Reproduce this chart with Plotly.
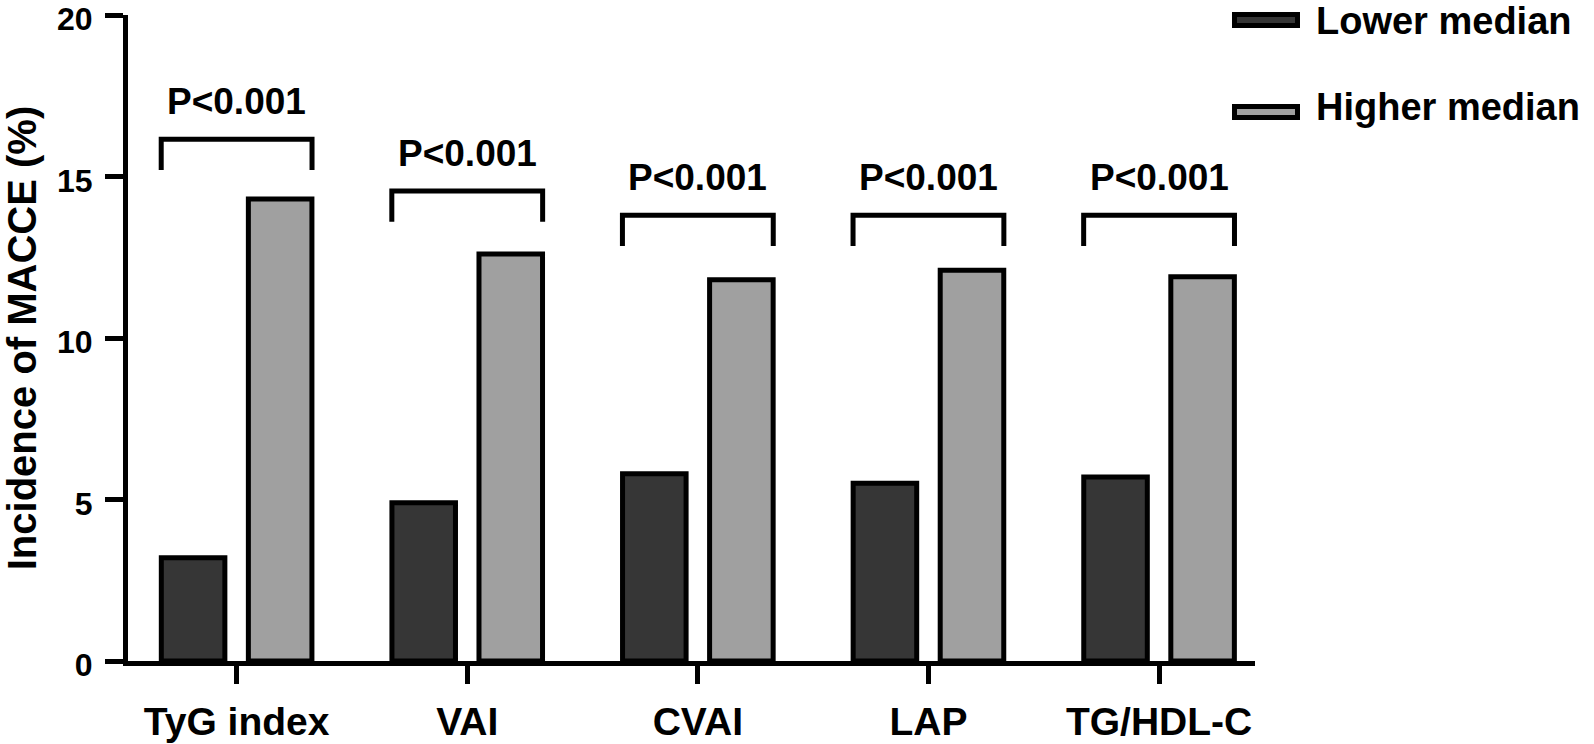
import plotly.graph_objects as go

categories = ["TyG index", "VAI", "CVAI", "LAP", "TG/HDL-C"]
lower_median = [3.2, 4.9, 5.8, 5.5, 5.7]
higher_median = [14.3, 12.6, 11.8, 12.1, 11.9]
p_labels = ["P<0.001", "P<0.001", "P<0.001", "P<0.001", "P<0.001"]
bracket_levels = [16.15, 14.55, 13.8, 13.8, 13.8]
series_names = ["Lower median", "Higher median"]
y_ticks = [0, 5, 10, 15, 20]

W, H = 1594, 744
PL, PR, PT, PB = 128, 1255, 15, 661          # plot area edges in page pixels
ML, MT = PL, PT
MR, MB = W - PR, H - PB
FONT = "Arial, Liberation Sans, Helvetica, sans-serif"
LOW_COLOR = "#363636"
HIGH_COLOR = "#a0a0a0"

xs = list(range(len(categories)))

fig = go.Figure()
fig.add_trace(go.Bar(x=xs, y=lower_median, name=series_names[0],
                     marker=dict(color=LOW_COLOR, line=dict(color="black", width=5)),
                     showlegend=False))
fig.add_trace(go.Bar(x=xs, y=higher_median, name=series_names[1],
                     marker=dict(color=HIGH_COLOR, line=dict(color="black", width=5)),
                     showlegend=False))

shapes = []
annotations = []
HALF = 0.327
for i, (top, p) in enumerate(zip(bracket_levels, p_labels)):
    leg = top - 0.95
    shapes.append(dict(type="path", xref="x", yref="y",
                       path=f"M {i-HALF},{leg} L {i-HALF},{top} L {i+HALF},{top} L {i+HALF},{leg}",
                       line=dict(color="black", width=5)))
    annotations.append(dict(x=i, y=top + 1.17, xref="x", yref="y", text=p, showarrow=False,
                            xanchor="center", yanchor="middle",
                            font=dict(family=FONT, size=37, color="black", weight="bold")))

pw = PR - PL
ph = PB - PT
def px(x):
    return (x - PL) / pw
def py(y):
    return 1 - (y - PT) / ph

legend_rows = [(series_names[0], LOW_COLOR, 20, 21), (series_names[1], HIGH_COLOR, 112, 107)]
for name, col, cy, ty in legend_rows:
    shapes.append(dict(type="rect", xref="paper", yref="paper",
                       x0=px(1234.5), x1=px(1297.5), y0=py(cy - 5.5), y1=py(cy + 5.5),
                       fillcolor=col, line=dict(color="black", width=5)))
    annotations.append(dict(x=px(1314), y=py(ty), xref="paper", yref="paper", text=name,
                            showarrow=False, xanchor="left", yanchor="middle",
                            font=dict(family=FONT, size=38, color="black", weight="bold")))

fig.update_layout(
    width=W, height=H,
    margin=dict(l=ML, r=MR, t=MT, b=MB, pad=0, autoexpand=False),
    plot_bgcolor="white", paper_bgcolor="white",
    barmode="group", bargap=0.245, bargroupgap=0.27,
    shapes=shapes, annotations=annotations,
    showlegend=False,
)
fig.update_xaxes(
    type="linear", range=[-0.471, 4.416], tickvals=xs, ticktext=categories,
    showline=True, linecolor="black", linewidth=5,
    ticks="outside", ticklen=18, tickwidth=5, tickcolor="black",
    ticklabelstandoff=4, automargin=False,
    tickfont=dict(family=FONT, size=39, color="black", weight="bold"),
    showgrid=False, zeroline=False,
)
fig.update_yaxes(
    range=[0, 20], tickvals=y_ticks,
    showline=True, linecolor="black", linewidth=5,
    ticks="outside", ticklen=18, tickwidth=5, tickcolor="black",
    ticklabelstandoff=6, ticklabelshift=4, automargin=False, ticklabeloverflow="allow",
    tickfont=dict(family=FONT, size=32, color="black", weight="bold"),
    title=dict(text="Incidence of MACCE (%)", standoff=33,
               font=dict(family=FONT, size=40, color="black", weight="bold")),
    showgrid=False, zeroline=False,
)

fig.write_html("out.html", config={"displayModeBar": False},
               post_script="document.body.style.margin='0px';document.body.style.overflow='hidden';")
